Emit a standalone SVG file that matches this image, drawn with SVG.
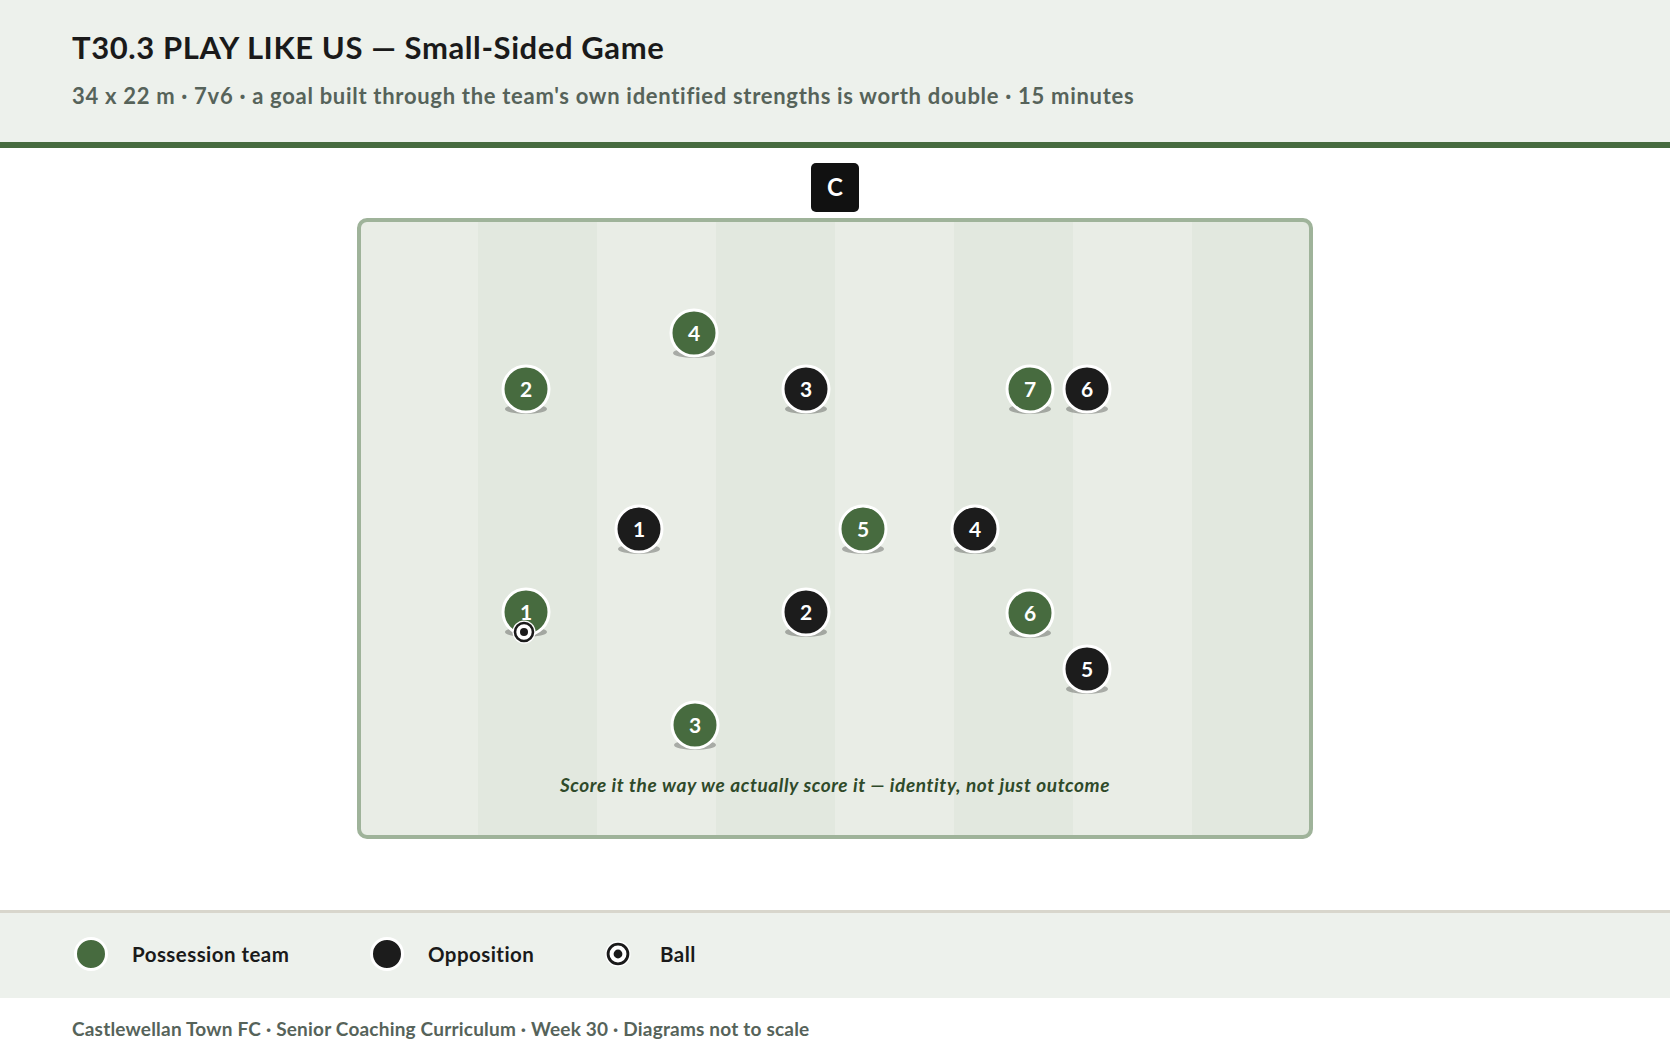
<svg xmlns="http://www.w3.org/2000/svg" width="1670" height="1054" viewBox="0 0 1670 1054">
<style>
.t{font-family:Lato,"Liberation Sans",sans-serif}
.title{font-size:31px;font-weight:700;fill:#1a1a1a;letter-spacing:0.6px}
.sub{font-size:22px;font-weight:700;fill:#56635a;letter-spacing:0.7px}
.pn{font-size:21px;font-weight:700;fill:#fff;text-anchor:middle}
.sh{fill:#000;opacity:0.28}
.g{fill:#476b3f;stroke:#fff;stroke-width:3}
.b{fill:#1c1c1c;stroke:#fff;stroke-width:3}
.lg{font-size:20.5px;font-weight:700;fill:#1a1a1a;letter-spacing:0.45px}
.cap{font-size:19px;font-weight:700;font-style:italic;fill:#2f4a2a;text-anchor:middle;letter-spacing:0.6px}
.ft{font-size:19px;font-weight:700;fill:#56635a;letter-spacing:0.2px}
.lt{fill:#e9ede6}
.dk{fill:#e2e8df}
</style>
<defs>
<g id="ball">
<circle r="11.5" fill="#fff"/>
<circle r="9" fill="#fff" stroke="#1a1a1a" stroke-width="2.6"/>
<circle r="4" fill="#1a1a1a"/>
</g>
</defs>
<rect width="1670" height="1054" fill="#fff"/>
<g id="header">
<rect x="0" y="0" width="1670" height="142" fill="#edf1ec"/>
<rect x="0" y="142" width="1670" height="6" fill="#476b3f"/>
<text class="t title" x="72" y="59">T30.3 PLAY LIKE US — Small-Sided Game</text>
<text class="t sub" x="72" y="104">34 x 22 m · 7v6 · a goal built through the team's own identified strengths is worth double · 15 minutes</text>
</g>
<g id="coach">
<rect x="811" y="163" width="48" height="49" rx="5" fill="#111"/>
<text class="t" x="835" y="196" font-size="24" font-weight="700" fill="#fff" text-anchor="middle">C</text>
</g>
<g id="pitch">
<rect x="359" y="220" width="952" height="617" rx="8" class="lt"/>
<rect x="478" y="222" width="119" height="613" class="dk"/>
<rect x="716" y="222" width="119" height="613" class="dk"/>
<rect x="954" y="222" width="119" height="613" class="dk"/>
<rect x="1192" y="222" width="117" height="613" class="dk"/>
<rect x="359" y="220" width="952" height="617" rx="8" fill="none" stroke="#9fb39a" stroke-width="4"/>
<text class="t cap" x="835" y="792">Score it the way we actually score it — identity, not just outcome</text>
</g>
<g id="connectors"></g>
<g id="p-g4"><ellipse class="sh" cx="694" cy="353" rx="21" ry="5"/><circle class="g" cx="694" cy="333" r="23"/><text class="t pn" x="694" y="340.5">4</text></g>
<g id="p-g2"><ellipse class="sh" cx="526" cy="409" rx="21" ry="5"/><circle class="g" cx="526" cy="389" r="23"/><text class="t pn" x="526" y="396.5">2</text></g>
<g id="p-b3"><ellipse class="sh" cx="806" cy="409" rx="21" ry="5"/><circle class="b" cx="806" cy="389" r="23"/><text class="t pn" x="806" y="396.5">3</text></g>
<g id="p-g7"><ellipse class="sh" cx="1030" cy="409" rx="21" ry="5"/><circle class="g" cx="1030" cy="389" r="23"/><text class="t pn" x="1030" y="396.5">7</text></g>
<g id="p-b6"><ellipse class="sh" cx="1087" cy="409" rx="21" ry="5"/><circle class="b" cx="1087" cy="389" r="23"/><text class="t pn" x="1087" y="396.5">6</text></g>
<g id="p-b1"><ellipse class="sh" cx="639" cy="549" rx="21" ry="5"/><circle class="b" cx="639" cy="529" r="23"/><text class="t pn" x="639" y="536.5">1</text></g>
<g id="p-g5"><ellipse class="sh" cx="863" cy="549" rx="21" ry="5"/><circle class="g" cx="863" cy="529" r="23"/><text class="t pn" x="863" y="536.5">5</text></g>
<g id="p-b4"><ellipse class="sh" cx="975" cy="549" rx="21" ry="5"/><circle class="b" cx="975" cy="529" r="23"/><text class="t pn" x="975" y="536.5">4</text></g>
<g id="p-g1"><ellipse class="sh" cx="526" cy="632" rx="21" ry="5"/><circle class="g" cx="526" cy="612" r="23"/><text class="t pn" x="526" y="619.5">1</text></g>
<g id="p-b2"><ellipse class="sh" cx="806" cy="632" rx="21" ry="5"/><circle class="b" cx="806" cy="612" r="23"/><text class="t pn" x="806" y="619.5">2</text></g>
<g id="p-g6"><ellipse class="sh" cx="1030" cy="633" rx="21" ry="5"/><circle class="g" cx="1030" cy="613" r="23"/><text class="t pn" x="1030" y="620.5">6</text></g>
<g id="p-b5"><ellipse class="sh" cx="1087" cy="689" rx="21" ry="5"/><circle class="b" cx="1087" cy="669" r="23"/><text class="t pn" x="1087" y="676.5">5</text></g>
<g id="p-g3"><ellipse class="sh" cx="695" cy="745" rx="21" ry="5"/><circle class="g" cx="695" cy="725" r="23"/><text class="t pn" x="695" y="732.5">3</text></g>
<g id="ball-1"><use href="#ball" x="524" y="632"/></g>
<g id="legend">
<rect x="0" y="910" width="1670" height="88" fill="#edf1ec"/>
<rect x="0" y="910" width="1670" height="3" fill="#d8d6cc"/>
<circle class="g" cx="91" cy="954" r="15.5"/>
<text class="t lg" x="132" y="962">Possession team</text>
<circle class="b" cx="387" cy="954" r="15.5"/>
<text class="t lg" x="428" y="962">Opposition</text>
<g transform="translate(618,954) scale(1.1)"><use href="#ball"/></g>
<text class="t lg" x="660" y="962">Ball</text>
</g>
<g id="footer">
<text class="t ft" x="72" y="1036">Castlewellan Town FC · Senior Coaching Curriculum · Week 30 · Diagrams not to scale</text>
</g>
</svg>
